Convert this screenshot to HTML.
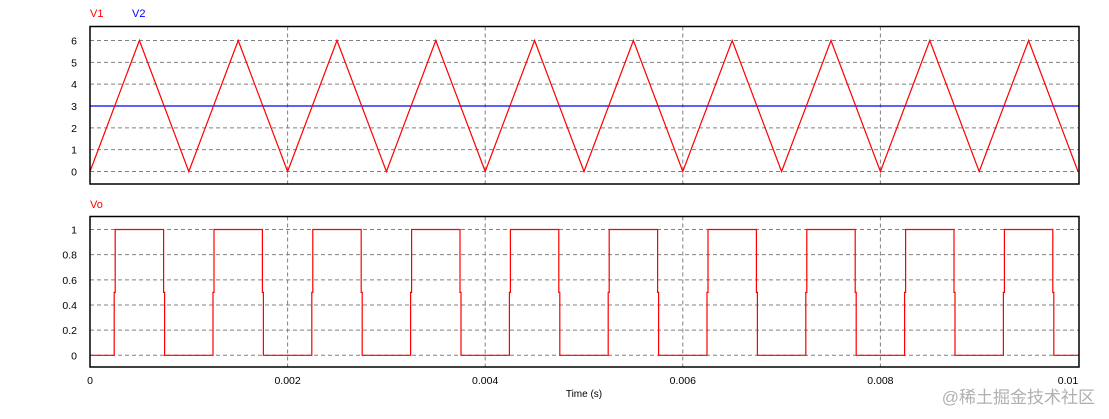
<!DOCTYPE html>
<html><head><meta charset="utf-8"><style>
body{margin:0;background:#fff;}
svg{display:block;font-family:"Liberation Sans",Arial,sans-serif;}
</style></head><body>
<svg id="s" width="1109" height="419" xmlns="http://www.w3.org/2000/svg">
<g id="g"></g>
<text x="90" y="17" fill="#ff0000" font-size="11">V1</text>
<text x="132" y="17" fill="#0000ff" font-size="11">V2</text>
<text x="90" y="208" fill="#ff0000" font-size="11">Vo</text>
<text x="584" y="397" font-size="10" text-anchor="middle" fill="#000">Time (s)</text>
<text x="1095" y="403" font-size="17" text-anchor="end" fill="#b0b0b0" font-family="'Liberation Sans','Noto Sans CJK SC',sans-serif">@稀土掘金技术社区</text>
</svg>
<script>
var g=document.getElementById('g'),h='';
var X0=90,X1=1079,K=98.8;
function X(t){return X0+t*K;}
// top plot
var T0=26.5,T1=184,ty=function(v){return 171.5-v*21.833;};
var B0=216.5,B1=367,by=function(v){return 355.3-v*125.8;};
var dash='stroke="#808080" stroke-width="1" stroke-dasharray="4,3"';
for(var v=0;v<=6;v++){var y=ty(v);h+='<line x1="90" x2="1079" y1="'+y+'" y2="'+y+'" '+dash+'/>';h+='<text x="77" y="'+(y+4)+'" font-size="10.5" text-anchor="end">'+v+'</text>';}
var bl=['0','0.2','0.4','0.6','0.8','1'];
for(var i=0;i<=5;i++){var y=by(i*0.2);h+='<line x1="90" x2="1079" y1="'+y+'" y2="'+y+'" '+dash+'/>';h+='<text x="77" y="'+(y+4)+'" font-size="10.5" text-anchor="end">'+bl[i]+'</text>';}
var xl=['0','0.002','0.004','0.006','0.008','0.01'];
for(var i=0;i<=5;i++){var x=X(2*i);if(i>0&&i<5){h+='<line x1="'+x+'" x2="'+x+'" y1="'+T0+'" y2="'+T1+'" '+dash+'/>';h+='<line x1="'+x+'" x2="'+x+'" y1="'+B0+'" y2="'+B1+'" '+dash+'/>';}
h+='<text x="'+(i==5?1068:x)+'" y="384" font-size="10.5" text-anchor="middle">'+xl[i]+'</text>';}
h+='<line x1="90" x2="1079" y1="'+ty(3)+'" y2="'+ty(3)+'" stroke="#0000ff" stroke-width="1.2"/>';
var p='';for(var k=0;k<=20;k++){p+=(k?'L':'M')+X(k*0.5).toFixed(1)+' '+(k%2?ty(6):ty(0)).toFixed(1);}
h+='<path d="'+p+'" fill="none" stroke="#ff0000" stroke-width="1.2"/>';
var q='M90 '+by(0);
for(var k=0;k<10;k++){var r=X(k+0.25),f=X(k+0.75);
q+='L'+(r-0.5)+' '+by(0)+'L'+(r-0.5)+' '+by(0.5)+'L'+(r+0.5)+' '+by(0.5)+'L'+(r+0.5)+' '+by(1);
q+='L'+(f-0.5)+' '+by(1)+'L'+(f-0.5)+' '+by(0.5)+'L'+(f+0.5)+' '+by(0.5)+'L'+(f+0.5)+' '+by(0);}
q+='L1079 '+by(0);
h+='<path d="'+q+'" fill="none" stroke="#ff0000" stroke-width="1.2"/>';
h+='<rect x="90" y="'+T0+'" width="989" height="'+(T1-T0)+'" fill="none" stroke="#000" stroke-width="1.5"/>';
h+='<rect x="90" y="'+B0+'" width="989" height="'+(B1-B0)+'" fill="none" stroke="#000" stroke-width="1.5"/>';
g.innerHTML=h;
</script>
</body></html>
